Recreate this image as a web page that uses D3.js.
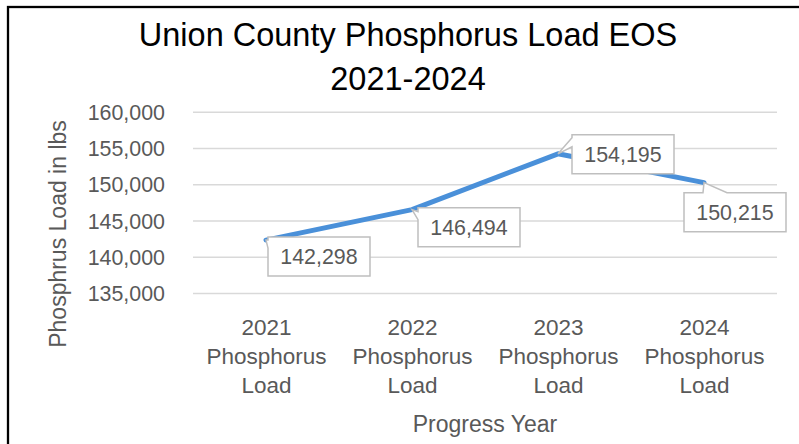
<!DOCTYPE html>
<html>
<head>
<meta charset="utf-8">
<script src="https://cdn.jsdelivr.net/npm/d3@7"></script>
<style>
  body { margin: 0; background: #fff; }
  svg { display: block; font-family: "Liberation Sans", Arial, sans-serif; }
</style>
</head>
<body>
<div class="chart"></div>
<script>
// Data
var categories = ["2021 Phosphorus Load", "2022 Phosphorus Load", "2023 Phosphorus Load", "2024 Phosphorus Load"];
var loads = [142298, 146494, 154195, 150215];
var yTicks = [135000, 140000, 145000, 150000, 155000, 160000];
var titleLines = ["Union County Phosphorus Load EOS", "2021-2024"];

// label callout placement: box offset from point, and which side the pointer sits on
var labelLayout = [
    {dx: 2, dy: -3, side: "left", a: 3, b: 11},
    {dx: 6, dy: -2, side: "left", a: 4, b: 12},
    {dx: 14, dy: -19, side: "left", a: 3, b: 12},
    {dx: -20, dy: 10, side: "top", a: 19, b: 43}
];

var W = 799, H = 444;
var plot = {left: 193, right: 777, top: 111.7, bottom: 293};
var textGray = "#595959";

var svg = d3.select(".chart").append("svg")
    .attr("width", W)
    .attr("height", H);

svg.append("rect")
    .attr("x", 8).attr("y", 7)
    .attr("width", 820).attr("height", 460)
    .attr("fill", "#fff")
    .attr("stroke", "#000")
    .attr("stroke-width", 2.3);

// Scales
var x = d3.scalePoint()
    .domain(categories)
    .range([plot.left, plot.right])
    .padding(0.5);

var y = d3.scaleLinear()
    .domain([135000, 160000])
    .range([plot.bottom, plot.top]);

// Title
svg.append("text")
    .attr("x", 408)
    .attr("y", 46)
    .attr("text-anchor", "middle")
    .style("font-size", "32.5px")
    .style("fill", "#000")
    .selectAll("tspan")
    .data(titleLines)
    .enter()
    .append("tspan")
        .attr("x", 408)
        .attr("dy", function(d, i) { return i == 0 ? 0 : 44; })
        .text(function(d) { return d; });

// Gridlines
var grid = svg.append("g")
    .attr("transform", "translate(" + plot.left + ",0)")
    .call(d3.axisLeft(y).tickValues(yTicks).tickSize(-(plot.right - plot.left)).tickFormat(""));
grid.select(".domain").remove();
grid.selectAll("line").attr("stroke", "#d9d9d9").attr("stroke-width", 1.5);

// Y axis labels
var yaxis = svg.append("g")
    .attr("transform", "translate(" + plot.left + ",0)")
    .call(d3.axisLeft(y).tickValues(yTicks).tickSize(0).tickPadding(28).tickFormat(d3.format(",")));
yaxis.select(".domain").remove();
yaxis.selectAll("text")
    .attr("font-family", null)
    .attr("dy", "0.36em")
    .style("font-size", "21.4px")
    .style("fill", textGray);

// X axis labels, one tspan per word
var xaxis = svg.append("g")
    .attr("transform", "translate(0," + plot.bottom + ")")
    .call(d3.axisBottom(x).tickSize(0).tickFormat(""));
xaxis.select(".domain").remove();
xaxis.selectAll(".tick").append("text")
    .attr("y", 42)
    .attr("text-anchor", "middle")
    .style("font-size", "22.5px")
    .style("fill", textGray)
    .selectAll("tspan")
    .data(function(d) { return d.split(" "); })
    .enter()
    .append("tspan")
        .attr("x", 0)
        .attr("dy", function(d, i) { return i == 0 ? 0 : 29; })
        .text(function(d) { return d; });

// Axis titles
svg.append("text")
    .attr("transform", "translate(66,234) rotate(-90)")
    .attr("text-anchor", "middle")
    .style("font-size", "23px")
    .style("fill", textGray)
    .text("Phosphrus Load in lbs");

svg.append("text")
    .attr("x", 485)
    .attr("y", 432)
    .attr("text-anchor", "middle")
    .style("font-size", "23px")
    .style("fill", textGray)
    .text("Progress Year");

// Line
var points = categories.map(function(c, i) { return {cat: c, value: loads[i], lay: labelLayout[i]}; });

var line = d3.line()
    .x(function(d) { return x(d.cat); })
    .y(function(d) { return y(d.value); });

svg.append("path")
    .datum(points)
    .attr("d", line)
    .style("fill", "none")
    .style("stroke", "#4a90d9")
    .style("stroke-width", 5)
    .style("stroke-linecap", "round")
    .style("stroke-linejoin", "round");

// Data label callouts
var boxW = 102, boxH = 39;

function calloutPath(px, py, L) {
    var x0 = px + L.dx, y0 = py + L.dy, x1 = x0 + boxW, y1 = y0 + boxH;
    var p = d3.path();
    if (L.side == "left") {
        p.moveTo(x0, y0);
        p.lineTo(x1, y0);
        p.lineTo(x1, y1);
        p.lineTo(x0, y1);
        p.lineTo(x0, y0 + L.b);
        p.lineTo(px, py);
        p.lineTo(x0, y0 + L.a);
        p.closePath();
    } else {
        p.moveTo(x0, y0);
        p.lineTo(x0 + L.a, y0);
        p.lineTo(px, py);
        p.lineTo(x0 + L.b, y0);
        p.lineTo(x1, y0);
        p.lineTo(x1, y1);
        p.lineTo(x0, y1);
        p.closePath();
    }
    return p.toString();
}

var labels = svg.append("g")
    .selectAll("g")
    .data(points)
    .enter()
    .append("g");

labels.append("path")
    .attr("d", function(d) { return calloutPath(x(d.cat), y(d.value), d.lay); })
    .attr("fill", "#fff")
    .attr("stroke", "#bfbfbf")
    .attr("stroke-width", 1.5)
    .attr("stroke-linejoin", "miter");

labels.append("text")
    .attr("x", function(d) { return x(d.cat) + d.lay.dx + boxW / 2; })
    .attr("y", function(d) { return y(d.value) + d.lay.dy + boxH / 2 + 7.5; })
    .attr("text-anchor", "middle")
    .style("font-size", "21.4px")
    .style("fill", textGray)
    .text(function(d) { return d3.format(",")(d.value); });
</script>
</body>
</html>
